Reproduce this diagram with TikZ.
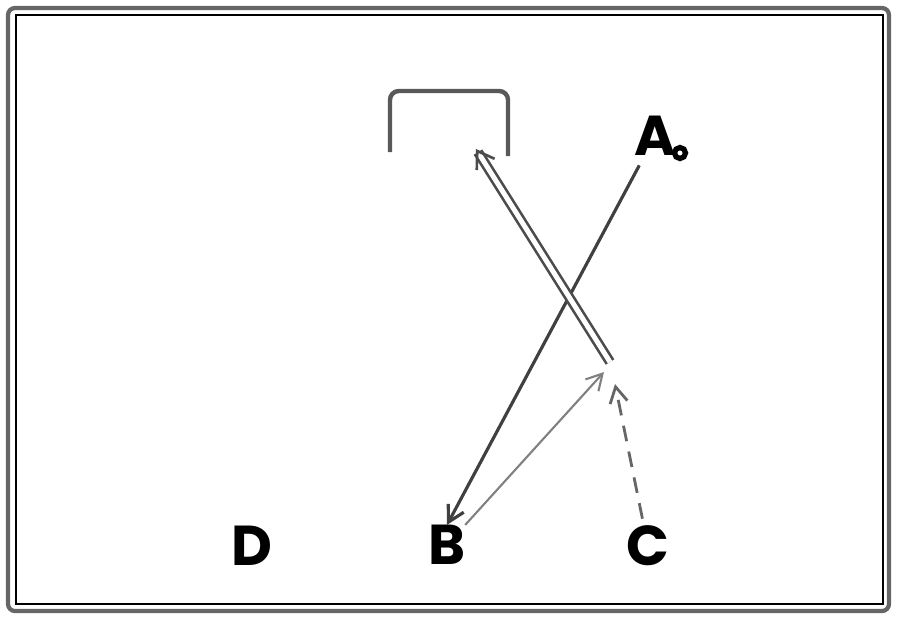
\documentclass[tikz,border=0pt]{standalone}
\usepackage{fontspec}
\setmainfont{Poppins}
\usetikzlibrary{arrows.meta}
\tikzstyle{player} = [inner sep=0pt, font=\fontsize{32}{34}\selectfont\bfseries]
\tikzstyle{line} = [draw, black!75, line width=1.8pt, -{Straight Barb[length=9pt,width=10pt]}]
\tikzstyle{pass} = [draw, black!50, line width=1.2pt, -{Straight Barb[length=9pt,width=10pt]}]
\tikzstyle{run} = [draw, black!60, line width=1.6pt, dash pattern=on 9pt off 6pt, -{Straight Barb[length=9pt,width=10pt]}]
\tikzstyle{shot} = [draw, black!70, line width=1.5pt, double, double distance=2.8pt, -{Straight Barb[length=9pt,width=12pt]}]

\begin{document}
\begin{tikzpicture}[x=0.02cm, y=-0.02cm]
	\useasboundingbox (0,0) rectangle (900,620);
	% frame
	\draw[black!60, line width=2.4pt, rounded corners=4pt] (8,8) rectangle (889,611);
	\draw[black, line width=1.1pt] (16,15) rectangle (883,604);
	% goal
	\draw[black!65, line width=2.5pt, rounded corners=5pt] (390,152) -- (390,91) -- (508,91) -- (508,156);

	\node [player] (A) at (655,136) {A};
	\node [player] (B) at (447,545) {B};
	\node [player] (C) at (648,546) {C};
	\node [player] (D) at (252,546) {D};
	\draw[line width=3pt] (680,153) circle [radius=0.11cm];

	\coordinate (goal) at (476,149);
	\coordinate (meet) at (604,372);
	\coordinate (strike) at (610,362);
	\coordinate (runto) at (615,384);

	\path[line, shorten <=6pt] (A) -- (B.north);
	\path[pass] (B) -- (meet);
	\path[run, shorten <=4pt] (C) -- (runto);
	\path[shot] (strike) -- (goal);
\end{tikzpicture}
\end{document}
